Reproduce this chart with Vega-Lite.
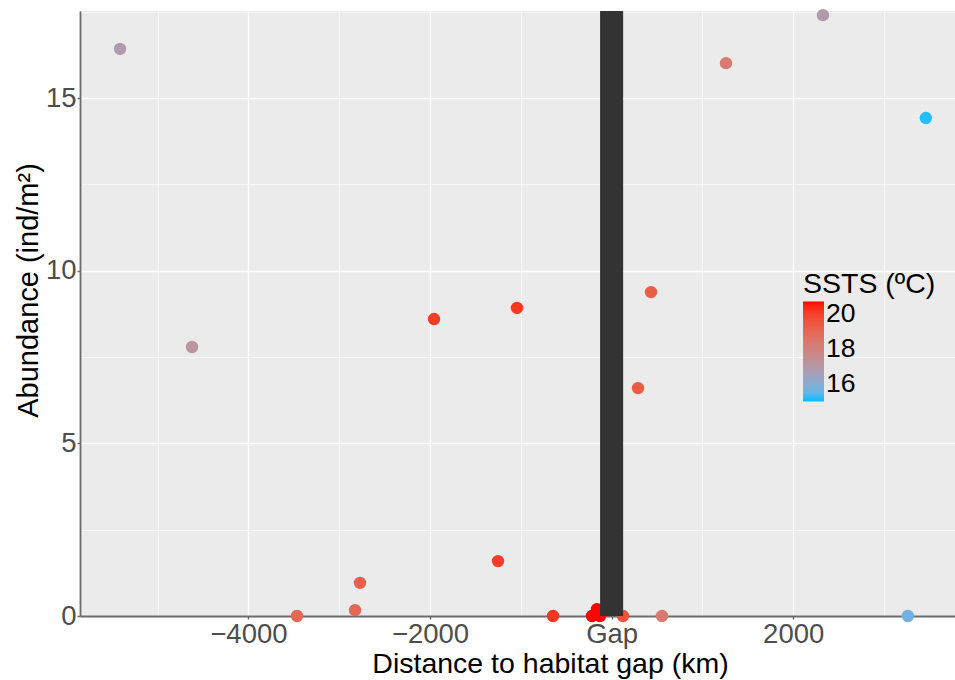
{
  "$schema": "https://vega.github.io/schema/vega-lite/v6.json",
  "width": 875,
  "height": 605,
  "autosize": {"type": "none"},
  "padding": {"left": 80, "top": 11, "right": 0, "bottom": 64},
  "config": {
    "view": {"fill": "#EBEBEB", "stroke": null},
    "font": "Liberation Sans"
  },
  "datasets": {
    "pts": [
      {"dist": -5414, "abund": 16.42, "ssts": 16.9},
      {"dist": -4621, "abund": 7.79, "ssts": 17.2},
      {"dist": -3465, "abund": 0, "ssts": 19.0},
      {"dist": -2826, "abund": 0.17, "ssts": 19.0},
      {"dist": -2771, "abund": 0.96, "ssts": 19.2},
      {"dist": -1956, "abund": 8.6, "ssts": 20.1},
      {"dist": -1251, "abund": 1.59, "ssts": 20.1},
      {"dist": -1042, "abund": 8.92, "ssts": 20.2},
      {"dist": -645, "abund": 0, "ssts": 20.2},
      {"dist": -216, "abund": 0, "ssts": 20.7},
      {"dist": -161, "abund": 0.2, "ssts": 20.7},
      {"dist": -128, "abund": 0, "ssts": 20.7},
      {"dist": 125, "abund": 0, "ssts": 19.6},
      {"dist": 291, "abund": 6.6, "ssts": 19.4},
      {"dist": 434, "abund": 9.38, "ssts": 19.3},
      {"dist": 555, "abund": 0, "ssts": 18.3},
      {"dist": 1260, "abund": 16.01, "ssts": 18.3},
      {"dist": 2328, "abund": 17.4, "ssts": 16.9},
      {"dist": 3263, "abund": 0, "ssts": 15.7},
      {"dist": 3461, "abund": 14.42, "ssts": 15.1}
    ],
    "gap": [{"x1": -127, "x2": 127, "y1": 0, "y2": 17.52}]
  },
  "layer": [
    {
      "data": {"name": "pts"},
      "mark": {"type": "point", "filled": true, "size": 154, "opacity": 1},
      "encoding": {
        "x": {
          "field": "dist",
          "type": "quantitative",
          "scale": {"domain": [-5855, 3782], "nice": false, "zero": false},
          "axis": {
            "values": [-5000, -4000, -3000, -2000, -1000, 0, 1000, 2000, 3000],
            "format": "d",
            "labelExpr": "datum.value == 0 ? 'Gap' : (datum.value % 2000 == 0 ? datum.label : '')",
            "title": "Distance to habitat gap (km)",
            "titleFontSize": 28.5,
            "titleFontWeight": "normal",
            "titleColor": "#000000",
            "titleX": 470,
            "titleY": 56,
            "titleBaseline": "alphabetic",
            "titleAnchor": "middle",
            "titleAlign": "center",
            "labelFontSize": 27.5,
            "labelColor": "#4D4D4D",
            "labelPadding": 1,
            "labelOverlap": false,
            "domainColor": "#6B6B6B",
            "domainWidth": 1.8,
            "tickColor": "#6B6B6B",
            "tickSize": 3,
            "tickWidth": 1.5,
            "tickOpacity": {"condition": {"test": "datum.value % 2000 == 0", "value": 1}, "value": 0},
            "gridColor": "#FFFFFF",
            "gridWidth": {"condition": {"test": "datum.value % 2000 == 0", "value": 1.3}, "value": 0.6}
          }
        },
        "y": {
          "field": "abund",
          "type": "quantitative",
          "scale": {"domain": [0, 17.52], "nice": false, "zero": false},
          "axis": {
            "values": [0, 2.5, 5, 7.5, 10, 12.5, 15, 17.5],
            "labelExpr": "datum.value % 5 == 0 ? datum.label : ''",
            "title": "Abundance (ind/m²)",
            "titleFontSize": 29,
            "titleFontWeight": "normal",
            "titleColor": "#000000",
            "titleAngle": -90,
            "titleX": -43,
            "titleY": 279,
            "titleBaseline": "alphabetic",
            "titleAlign": "center",
            "labelFontSize": 27.5,
            "labelColor": "#4D4D4D",
            "labelPadding": 1,
            "labelOverlap": false,
            "domainColor": "#6B6B6B",
            "domainWidth": 1.8,
            "tickColor": "#6B6B6B",
            "tickSize": 3,
            "tickWidth": 1.5,
            "tickOpacity": {"condition": {"test": "datum.value % 5 == 0", "value": 1}, "value": 0},
            "gridColor": "#FFFFFF",
            "gridWidth": {"condition": {"test": "datum.value % 5 == 0", "value": 1.3}, "value": 0.6}
          }
        },
        "color": {
          "field": "ssts",
          "type": "quantitative",
          "scale": {"domain": [15.03, 20.71], "range": ["#00BFFF", "#FF0000"], "interpolate": "lab"},
          "legend": {
            "orient": "none",
            "legendX": 723,
            "legendY": 259,
            "padding": 0,
            "direction": "vertical",
            "title": "SSTS (ºC)",
            "titleFontSize": 28.5,
            "titleFontWeight": "normal",
            "titleColor": "#000000",
            "titlePadding": 3,
            "labelFontSize": 26.5,
            "labelColor": "#000000",
            "labelOffset": 2,
            "values": [16, 18, 20],
            "gradientLength": 100,
            "gradientThickness": 21,
            "gradientStrokeWidth": 0
          }
        }
      }
    },
    {
      "data": {"name": "gap"},
      "mark": {"type": "rect", "color": "#333333", "clip": true},
      "encoding": {
        "x": {"field": "x1", "type": "quantitative"},
        "x2": {"field": "x2"},
        "y": {"field": "y1", "type": "quantitative"},
        "y2": {"field": "y2"}
      }
    }
  ]
}
